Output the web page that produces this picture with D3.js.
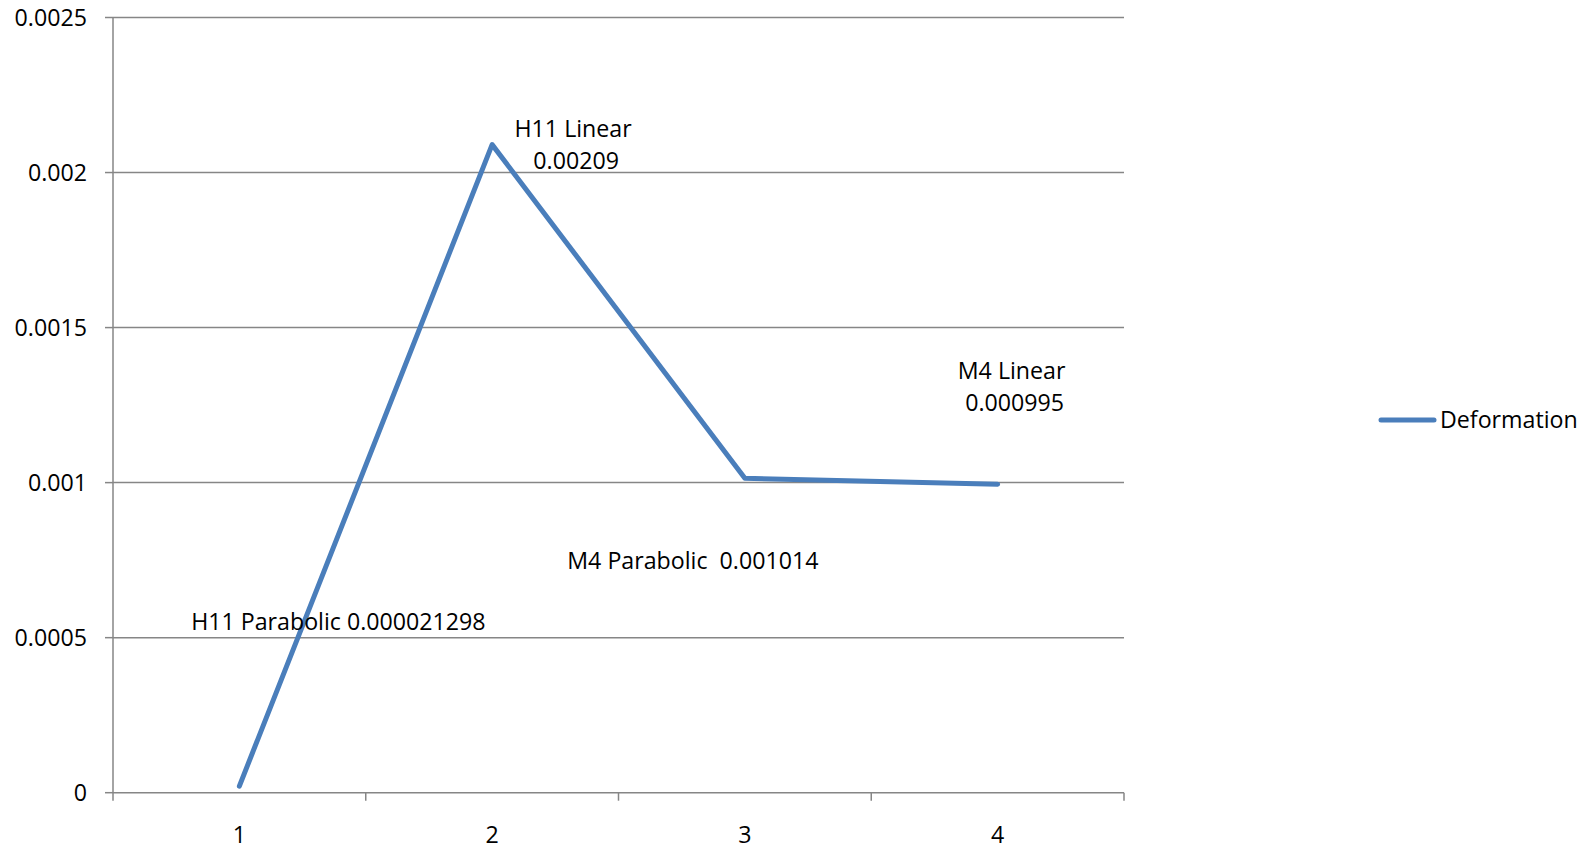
<!DOCTYPE html>
<html>
<head>
<meta charset="utf-8">
<script src="https://cdn.jsdelivr.net/npm/d3@7"></script>
<style>
  html, body { margin: 0; padding: 0; background: #ffffff; }
  svg { display: block; }
  text { font-family: "Open Sans", "Noto Sans", sans-serif; fill: #000; }
</style>
</head>
<body>
<svg id="chart" width="1596" height="850"></svg>
<script>
// Deformation per case
const categories = ["1", "2", "3", "4"];
const deformation = [0.000021298, 0.00209, 0.001014, 0.000995];
const yTicks = [0, 0.0005, 0.001, 0.0015, 0.002, 0.0025];
const yTickLabels = ["0", "0.0005", "0.001", "0.0015", "0.002", "0.0025"];
const pointLabels = [
  ["H11 Parabolic 0.000021298"],
  ["H11 Linear", " 0.00209"],
  ["M4 Parabolic  0.001014"],
  ["M4 Linear", " 0.000995"]
];
const seriesName = "Deformation";

const W = 1596, H = 850;
const plot = { left: 113, right: 1124, top: 17.5, bottom: 792.7 };
const lineColor = "#4a7ebb";
const axisColor = "#868686";
const fontSize = 23.2;

const svg = d3.select("#chart");

const x = d3.scaleBand().domain(categories).range([plot.left, plot.right]).padding(0);
const y = d3.scaleLinear().domain([0, 0.0025]).range([plot.bottom, plot.top]);
const cx = c => x(c) + x.bandwidth() / 2;

// horizontal gridlines
svg.append("g").selectAll("line").data(yTicks.slice(1)).join("line")
  .attr("x1", plot.left).attr("x2", plot.right)
  .attr("y1", d => y(d)).attr("y2", d => y(d))
  .attr("stroke", axisColor).attr("stroke-width", 1.5);

// y axis
const yAxis = svg.append("g");
yAxis.append("line")
  .attr("x1", plot.left).attr("x2", plot.left)
  .attr("y1", plot.top).attr("y2", plot.bottom)
  .attr("stroke", axisColor).attr("stroke-width", 1.5);
yAxis.selectAll("line.tick").data(yTicks).join("line").attr("class", "tick")
  .attr("x1", plot.left - 8).attr("x2", plot.left)
  .attr("y1", d => y(d)).attr("y2", d => y(d))
  .attr("stroke", axisColor).attr("stroke-width", 1.5);
yAxis.selectAll("text").data(yTicks).join("text")
  .attr("x", 87).attr("y", d => y(d))
  .attr("dy", "0.36em")
  .attr("text-anchor", "end")
  .attr("font-size", fontSize)
  .text((d, i) => yTickLabels[i]);

// x axis
const xAxis = svg.append("g");
xAxis.append("line")
  .attr("x1", plot.left).attr("x2", plot.right)
  .attr("y1", plot.bottom).attr("y2", plot.bottom)
  .attr("stroke", axisColor).attr("stroke-width", 1.5);
const edges = categories.map(c => x(c)).concat([x(categories[categories.length - 1]) + x.bandwidth()]);
xAxis.selectAll("line.tick").data(edges).join("line").attr("class", "tick")
  .attr("x1", d => d).attr("x2", d => d)
  .attr("y1", plot.bottom).attr("y2", plot.bottom + 8)
  .attr("stroke", axisColor).attr("stroke-width", 1.5);
xAxis.selectAll("text").data(categories).join("text")
  .attr("x", d => cx(d)).attr("y", 843)
  .attr("text-anchor", "middle")
  .attr("font-size", fontSize)
  .text(d => d);

// series line
const line = d3.line().x((d, i) => cx(categories[i])).y(d => y(d));
svg.append("path")
  .datum(deformation)
  .attr("d", line)
  .attr("fill", "none")
  .attr("stroke", lineColor)
  .attr("stroke-width", 5)
  .attr("stroke-linecap", "round")
  .attr("stroke-linejoin", "round");

// data labels, offset from their points
const labelOffsets = [
  { dx: 99, dy: -156, anchor: "middle" },
  { dx: 81, dy: -8, anchor: "middle" },
  { dx: -52, dy: 91, anchor: "middle" },
  { dx: 14, dy: -105, anchor: "middle" }
];
const labels = svg.append("g");
deformation.forEach((v, i) => {
  const o = labelOffsets[i];
  const t = labels.append("text")
    .attr("x", cx(categories[i]) + o.dx)
    .attr("y", y(v) + o.dy)
    .attr("text-anchor", o.anchor)
    .attr("font-size", fontSize)
    .attr("xml:space", "preserve")
    .style("white-space", "pre");
  pointLabels[i].forEach((ln, k) => {
    t.append("tspan")
      .attr("x", cx(categories[i]) + o.dx)
      .attr("dy", k === 0 ? 0 : 32)
      .text(ln);
  });
});

// legend
const lg = svg.append("g");
lg.append("line")
  .attr("x1", 1381).attr("x2", 1434)
  .attr("y1", 420).attr("y2", 420)
  .attr("stroke", lineColor).attr("stroke-width", 5)
  .attr("stroke-linecap", "round");
lg.append("text")
  .attr("x", 1440).attr("y", 420)
  .attr("dy", "0.36em")
  .attr("font-size", fontSize)
  .text(seriesName);
</script>
</body>
</html>
